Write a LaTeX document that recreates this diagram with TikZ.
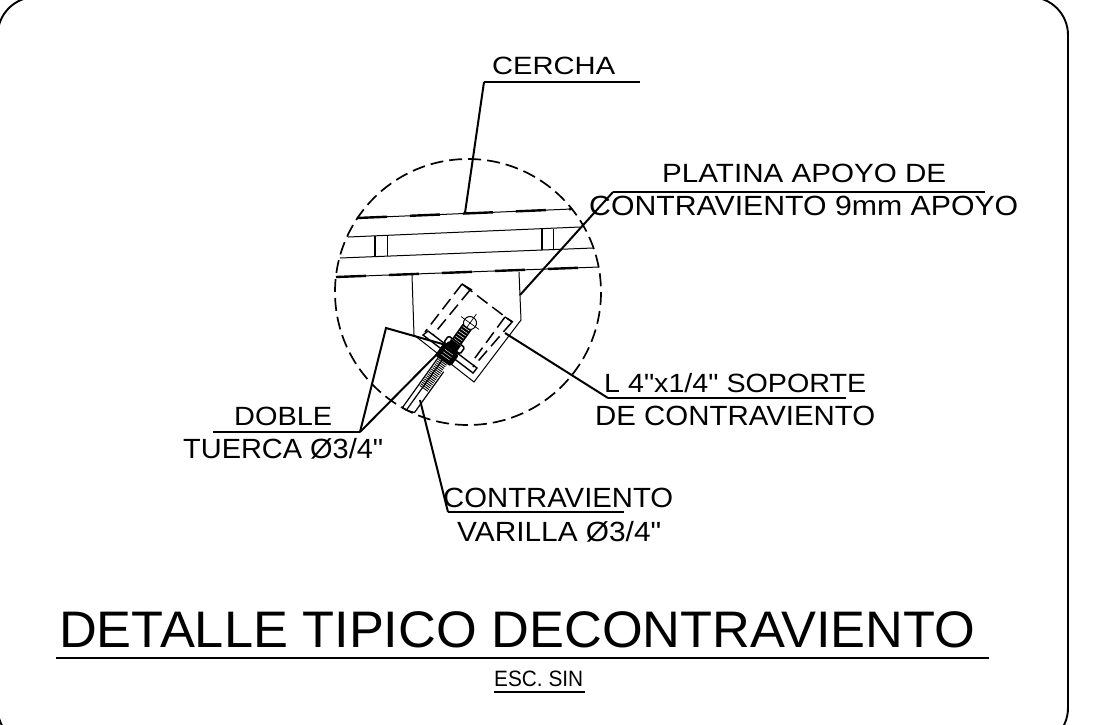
\documentclass[tikz,border=0pt]{standalone}
\usepackage{fontspec}
\usepackage{graphicx}
\setmainfont[Ligatures=TeXOff]{Liberation Sans}
\newcommand{\lbl}[6]{\node[anchor=south west,inner sep=0pt] (#1) at (#2,#5) {\resizebox{\dimexpr #3pt-#2pt\relax}{\dimexpr #5pt-#4pt\relax}{\smash{#6}\rule{0pt}{7.2pt}}};}
\tikzset{
  thin line/.style={line width=1pt},
  leader/.style={line width=2pt,line join=miter},
  shelf/.style={line width=2.2pt},
  chorddash/.style={line width=2.4pt,dash pattern=on 30pt off 23pt},
  platedash/.style={line width=1.5pt,dash pattern=on 13pt off 6pt},
}
\begin{document}
\begin{tikzpicture}[x=1pt,y=-1pt]
\clip (0,0) rectangle (1096,724);
\fill[white] (0,0) rectangle (1096,724);
% frame
\draw[line width=1.9pt,rounded corners=38pt] (-2.3,-3) rectangle (1068,746);
% detail circle
\draw[line width=1.7pt,dash pattern=on 13pt off 6pt] (468,292) circle (133);
% truss
\draw[thin line] (357,218) -- (572,209);
\draw[chorddash] (357,218) -- (572,209);
\draw[thin line] (348,237) -- (580,227);
\draw[thin line] (340,258) -- (593,248);
\draw[thin line] (336,277) -- (599,267);
\draw[chorddash] (336,277) -- (599,267);
\draw[line width=2.2pt] (375,236) -- (375,257);
\draw[thin line] (387,235) -- (387,256);
\draw[line width=2.2pt] (542,229) -- (542,250);
\draw[thin line] (553,229) -- (553,250);
% gusset
\draw[thin line] (412,275) -- (414,335) -- (474,382) -- (521,320) -- (519,272);
% angle
\draw[platedash] (462,284) -- (512,322);
\draw[platedash] (462,284) -- (425,332);
\draw[platedash] (470,290) -- (433,335);
\draw[platedash] (512,322) -- (473,367);
\draw[platedash] (505,317) -- (472,362);
\draw[line width=1.4pt] (462,284) -- (472,290);
\draw[line width=1.4pt] (505,317) -- (513,322);
\draw[line width=1.4pt] (423,335) -- (428,331) -- (477,368) -- (473,373) -- cycle;
% rod, local x from the eye down the rod
\begin{scope}[shift={(470,323)},rotate=234.4]
  \draw[thin line] (0,0) circle (6.5);
  \draw[line width=0.7pt] (-11,0) -- (11,0) (0,-11) -- (0,11);
  \fill[black] (5,-5.5) rectangle (28,5.5);
  \foreach \p in {7,10,...,28} \draw[white,line width=0.5pt] (\p,-4) -- (\p,4);
  \foreach \p in {46,48,...,80} \draw[line width=0.9pt] (\p,-5.5) -- (\p,4.5);
  \draw[line width=1.2pt] (42,5.7) -- (108,5.7) -- (108,1);
  \draw[line width=1.2pt] (42,1) -- (108,1) -- (105,-7) -- (55,-7);
  \draw[line width=1.5pt,fill=white,rounded corners=1.5pt] (23,-10) rectangle (31,10);
  \fill[black] (24,-6) rectangle (31,6);
  \draw[line width=1.5pt,fill=black,rounded corners=1.5pt] (33,-9) rectangle (46,9);
  \foreach \p in {36,39,...,44} \draw[white,line width=0.4pt] (\p,-5) -- (\p,5);
\end{scope}
% leaders
\coordinate (cA) at (484,82); \coordinate (cB) at (640,82); \coordinate (cT) at (465,213);
\draw[leader] (cT) -- (cA);
\draw[shelf] (cA) -- (cB);
\coordinate (pA) at (613,192); \coordinate (pB) at (985,192); \coordinate (pT) at (520,295);
\draw[leader] (pT) -- (pA);
\draw[shelf] (pA) -- (pB);
\coordinate (lA) at (608,398); \coordinate (lB) at (846,398); \coordinate (lT) at (505,333);
\draw[leader] (lT) -- (lA);
\draw[shelf] (lA) -- (lB);
\coordinate (dA) at (213,432); \coordinate (dB) at (360,432); \coordinate (dK) at (386,328);
\coordinate (dT) at (446,345); \coordinate (dU) at (449,342);
\draw[shelf] (dA) -- (dB);
\draw[leader] (dB) -- (dK) -- (dT);
\draw[leader] (dB) -- (dU);
\coordinate (vA) at (448,512); \coordinate (vB) at (624,512); \coordinate (vT) at (420,400);
\draw[leader] (vT) -- (vA);
\draw[shelf] (vA) -- (vB);
\coordinate (tA) at (56,658); \coordinate (tB) at (989,658);
\draw[line width=2.4pt] (tA) -- (tB);
\coordinate (eA) at (494,692); \coordinate (eB) at (585,692);
\draw[line width=2.4pt] (eA) -- (eB);
% texts
\lbl{t1}{492}{615}{57}{75}{CERCHA}
\lbl{t2}{662}{946}{164}{183}{PLATINA APOYO DE}
\lbl{t3}{589}{1018}{196}{216}{CONTRAVIENTO 9mm APOYO}
\lbl{t4}{604}{866}{374}{393}{L 4"x1/4" SOPORTE}
\lbl{t5}{595}{875}{406}{426}{DE CONTRAVIENTO}
\lbl{t6}{234}{332}{407}{426}{DOBLE}
\lbl{t7}{183}{383}{439}{459}{TUERCA Ø3/4"}
\lbl{t8}{443}{673}{488}{508}{CONTRAVIENTO}
\lbl{t9}{457}{661}{522}{542}{VARILLA Ø3/4"}
\lbl{t10}{59}{975}{611}{648}{DETALLE TIPICO DECONTRAVIENTO}
\lbl{t11}{494}{583}{671}{687}{ESC. SIN}
\end{tikzpicture}
\end{document}
